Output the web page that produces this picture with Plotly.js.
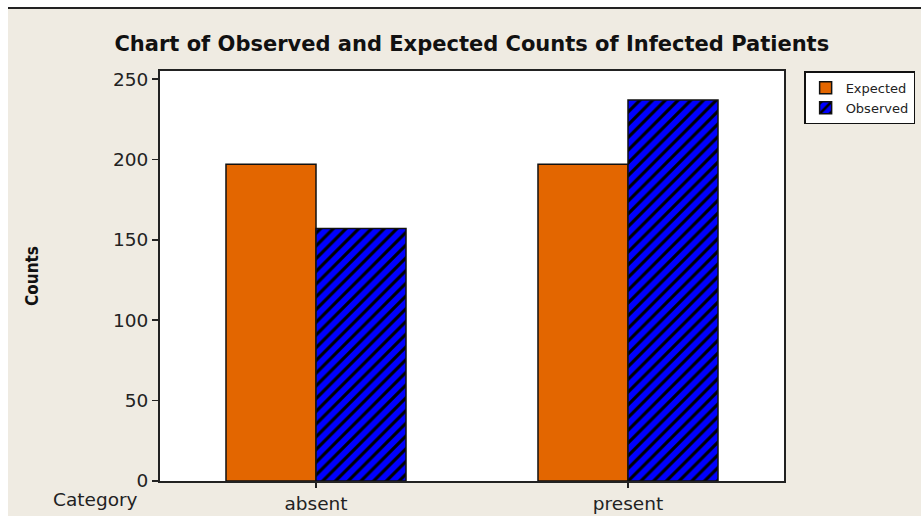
<!DOCTYPE html>
<html><head><meta charset="utf-8">
<script src="https://cdn.plot.ly/plotly-3.0.1.min.js"></script>
<style>
html,body{margin:0;padding:0;background:#fff;width:921px;height:516px;overflow:hidden;}
#wrap{position:absolute;left:8px;top:7px;width:913px;height:509px;border-top:2px solid #222;box-sizing:border-box;background:#efebe2;}
#chart{width:913px;height:507px;}
</style></head><body>
<div id="wrap"><div id="chart"></div></div>
<script>
const categories = ["absent", "present"];
const expected = [197, 197];
const observed = [157, 237];
const yTicks = [0, 50, 100, 150, 200, 250];

const font = "DejaVu Sans, Verdana, sans-serif";
const traces = [
  {type:"bar", name:"Expected", x:categories, y:expected,
   marker:{color:"#e36600", line:{color:"#111", width:1.5}}},
  {type:"bar", name:"Observed", x:categories, y:observed,
   marker:{color:"#0000ff", line:{color:"#111", width:1.5},
     pattern:{shape:"/", fgcolor:"#000", bgcolor:"#0000ff", size:9, solidity:0.35}}}
];
const layout = {
  width:913, height:507,
  paper_bgcolor:"#efebe2", plot_bgcolor:"#ffffff",
  margin:{l:152, r:137, t:62, b:35, autoexpand:false},
  barmode:"group", bargap:0.423, bargroupgap:0,
  showlegend:true,
  title:{text:"<b>Chart of Observed and Expected Counts of Infected Patients</b>",
    font:{family:font, size:21, color:"#111"}, x:0.508, xanchor:"center", y:0.932, yanchor:"middle"},
  xaxis:{range:[-0.5,1.5], showline:true, linecolor:"#222", linewidth:2, mirror:true,
    ticks:"outside", ticklen:5, tickcolor:"#222", tickwidth:1.5,
    tickfont:{family:font, size:18.5, color:"#222"}, showgrid:false, zeroline:false, fixedrange:true},
  yaxis:{range:[0,255], tickvals:yTicks, showline:true, linecolor:"#222", linewidth:2, mirror:true,
    ticks:"outside", ticklen:6, tickcolor:"#222", tickwidth:1.5,
    tickfont:{family:font, size:18.5, color:"#222"}, showgrid:false, zeroline:false,
    title:{text:"<b>Counts</b>", font:{family:"Liberation Sans Narrow, DejaVu Sans Condensed, sans-serif", size:17, color:"#111"}, standoff:70}},
  legend:{xref:"container", yref:"container", x:0.872, xanchor:"left", y:0.877, yanchor:"top",
    bgcolor:"#ffffff", bordercolor:"#111", borderwidth:1.5,
    font:{family:font, size:13, color:"#222"}, traceorder:"normal", itemwidth:30, tracegroupgap:0},
  annotations:[{text:"Category", xref:"paper", yref:"paper", x:-0.104, y:-0.046, xanchor:"center", yanchor:"middle",
    showarrow:false, font:{family:font, size:18.5, color:"#222"}}]
};
Plotly.newPlot("chart", traces, layout, {displayModeBar:false, staticPlot:true});
</script></body></html>
